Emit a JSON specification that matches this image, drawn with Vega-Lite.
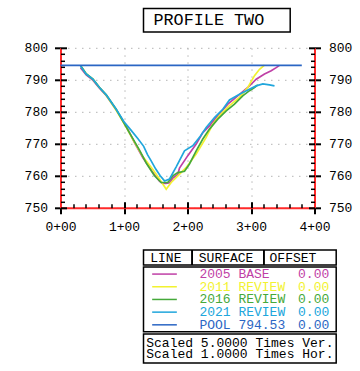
{
  "$schema": "https://vega.github.io/schema/vega-lite/v6.json",
  "padding": {"left": 23.5, "top": 7.5, "right": 2, "bottom": 2},
  "background": "white",
  "config": {"view": {"stroke": null}, "font": "Liberation Mono"},
  "datasets": {
    "profile": [
      {"series": "2005 BASE", "station": 31.5, "elev": 793.8},
      {"series": "2005 BASE", "station": 40.5, "elev": 791.5},
      {"series": "2005 BASE", "station": 51, "elev": 789.9},
      {"series": "2005 BASE", "station": 61.4, "elev": 787.4},
      {"series": "2005 BASE", "station": 72, "elev": 785.1},
      {"series": "2005 BASE", "station": 87.7, "elev": 780.6},
      {"series": "2005 BASE", "station": 103.5, "elev": 775.5},
      {"series": "2005 BASE", "station": 116.5, "elev": 770.4},
      {"series": "2005 BASE", "station": 129.6, "elev": 765.7},
      {"series": "2005 BASE", "station": 145.4, "elev": 761.0},
      {"series": "2005 BASE", "station": 155.9, "elev": 758.3},
      {"series": "2005 BASE", "station": 160, "elev": 757.7},
      {"series": "2005 BASE", "station": 166, "elev": 757.6},
      {"series": "2005 BASE", "station": 171.7, "elev": 757.8},
      {"series": "2005 BASE", "station": 176.9, "elev": 759.3},
      {"series": "2005 BASE", "station": 184.7, "elev": 760.4},
      {"series": "2005 BASE", "station": 187.4, "elev": 762.4},
      {"series": "2005 BASE", "station": 200.5, "elev": 766.3},
      {"series": "2005 BASE", "station": 213.7, "elev": 769.9},
      {"series": "2005 BASE", "station": 224.1, "elev": 773.5},
      {"series": "2005 BASE", "station": 234.6, "elev": 775.6},
      {"series": "2005 BASE", "station": 247.7, "elev": 778.8},
      {"series": "2005 BASE", "station": 263.5, "elev": 782.4},
      {"series": "2005 BASE", "station": 279.2, "elev": 785.0},
      {"series": "2005 BASE", "station": 295, "elev": 787.6},
      {"series": "2005 BASE", "station": 308.2, "elev": 790.2},
      {"series": "2005 BASE", "station": 321.3, "elev": 791.8},
      {"series": "2005 BASE", "station": 331.8, "elev": 792.8},
      {"series": "2005 BASE", "station": 339.7, "elev": 793.8},
      {"series": "2005 BASE", "station": 344.9, "elev": 794.5},
      {"series": "2011 REVIEW", "station": 31.5, "elev": 794.5},
      {"series": "2011 REVIEW", "station": 40.5, "elev": 791.9},
      {"series": "2011 REVIEW", "station": 51, "elev": 790.2},
      {"series": "2011 REVIEW", "station": 61.4, "elev": 787.6},
      {"series": "2011 REVIEW", "station": 72, "elev": 785.2},
      {"series": "2011 REVIEW", "station": 87.7, "elev": 780.5},
      {"series": "2011 REVIEW", "station": 103.5, "elev": 775.2},
      {"series": "2011 REVIEW", "station": 113.9, "elev": 771.4},
      {"series": "2011 REVIEW", "station": 129.6, "elev": 766.0},
      {"series": "2011 REVIEW", "station": 145.4, "elev": 762.0},
      {"series": "2011 REVIEW", "station": 155.9, "elev": 759.0},
      {"series": "2011 REVIEW", "station": 166.5, "elev": 755.8},
      {"series": "2011 REVIEW", "station": 174.3, "elev": 757.9},
      {"series": "2011 REVIEW", "station": 184.7, "elev": 760.0},
      {"series": "2011 REVIEW", "station": 198, "elev": 762.6},
      {"series": "2011 REVIEW", "station": 213.7, "elev": 766.8},
      {"series": "2011 REVIEW", "station": 229.4, "elev": 772.0},
      {"series": "2011 REVIEW", "station": 240, "elev": 776.2},
      {"series": "2011 REVIEW", "station": 250.4, "elev": 778.8},
      {"series": "2011 REVIEW", "station": 266.1, "elev": 781.9},
      {"series": "2011 REVIEW", "station": 281.9, "elev": 784.5},
      {"series": "2011 REVIEW", "station": 295, "elev": 787.6},
      {"series": "2011 REVIEW", "station": 305.5, "elev": 791.3},
      {"series": "2011 REVIEW", "station": 313.4, "elev": 793.3},
      {"series": "2011 REVIEW", "station": 321.3, "elev": 794.6},
      {"series": "2016 REVIEW", "station": 31.5, "elev": 794.5},
      {"series": "2016 REVIEW", "station": 40.5, "elev": 791.8},
      {"series": "2016 REVIEW", "station": 51, "elev": 790.2},
      {"series": "2016 REVIEW", "station": 61.4, "elev": 787.6},
      {"series": "2016 REVIEW", "station": 72, "elev": 785.3},
      {"series": "2016 REVIEW", "station": 87.7, "elev": 780.8},
      {"series": "2016 REVIEW", "station": 92.9, "elev": 779.0},
      {"series": "2016 REVIEW", "station": 108.7, "elev": 773.4},
      {"series": "2016 REVIEW", "station": 124.4, "elev": 768.0},
      {"series": "2016 REVIEW", "station": 135, "elev": 764.0},
      {"series": "2016 REVIEW", "station": 148, "elev": 760.0},
      {"series": "2016 REVIEW", "station": 158.6, "elev": 757.9},
      {"series": "2016 REVIEW", "station": 169, "elev": 757.9},
      {"series": "2016 REVIEW", "station": 176.9, "elev": 760.0},
      {"series": "2016 REVIEW", "station": 184.7, "elev": 761.0},
      {"series": "2016 REVIEW", "station": 195.3, "elev": 761.4},
      {"series": "2016 REVIEW", "station": 203.1, "elev": 763.7},
      {"series": "2016 REVIEW", "station": 213.7, "elev": 767.8},
      {"series": "2016 REVIEW", "station": 224.1, "elev": 771.5},
      {"series": "2016 REVIEW", "station": 234.6, "elev": 774.6},
      {"series": "2016 REVIEW", "station": 247.7, "elev": 777.7},
      {"series": "2016 REVIEW", "station": 261, "elev": 780.3},
      {"series": "2016 REVIEW", "station": 274, "elev": 782.4},
      {"series": "2016 REVIEW", "station": 287, "elev": 785.0},
      {"series": "2016 REVIEW", "station": 297.6, "elev": 786.6},
      {"series": "2016 REVIEW", "station": 305.5, "elev": 787.6},
      {"series": "2016 REVIEW", "station": 310.7, "elev": 788.4},
      {"series": "2021 REVIEW", "station": 31.5, "elev": 794.3},
      {"series": "2021 REVIEW", "station": 40.5, "elev": 791.8},
      {"series": "2021 REVIEW", "station": 51, "elev": 790.2},
      {"series": "2021 REVIEW", "station": 61.4, "elev": 787.6},
      {"series": "2021 REVIEW", "station": 72, "elev": 785.3},
      {"series": "2021 REVIEW", "station": 87.7, "elev": 780.8},
      {"series": "2021 REVIEW", "station": 100, "elev": 776.9},
      {"series": "2021 REVIEW", "station": 110, "elev": 774.5},
      {"series": "2021 REVIEW", "station": 122, "elev": 771.6},
      {"series": "2021 REVIEW", "station": 131, "elev": 769.2},
      {"series": "2021 REVIEW", "station": 137, "elev": 766.6},
      {"series": "2021 REVIEW", "station": 143, "elev": 764.6},
      {"series": "2021 REVIEW", "station": 150, "elev": 762.1},
      {"series": "2021 REVIEW", "station": 157, "elev": 760.0},
      {"series": "2021 REVIEW", "station": 163.8, "elev": 758.4},
      {"series": "2021 REVIEW", "station": 171.7, "elev": 759.0},
      {"series": "2021 REVIEW", "station": 182.2, "elev": 762.8},
      {"series": "2021 REVIEW", "station": 195.3, "elev": 767.8},
      {"series": "2021 REVIEW", "station": 208.3, "elev": 769.4},
      {"series": "2021 REVIEW", "station": 218.9, "elev": 772.0},
      {"series": "2021 REVIEW", "station": 229.4, "elev": 775.1},
      {"series": "2021 REVIEW", "station": 242.5, "elev": 778.2},
      {"series": "2021 REVIEW", "station": 255.6, "elev": 780.8},
      {"series": "2021 REVIEW", "station": 266.1, "elev": 783.7},
      {"series": "2021 REVIEW", "station": 281.9, "elev": 785.5},
      {"series": "2021 REVIEW", "station": 295, "elev": 786.8},
      {"series": "2021 REVIEW", "station": 308.2, "elev": 788.1},
      {"series": "2021 REVIEW", "station": 318.6, "elev": 788.7},
      {"series": "2021 REVIEW", "station": 329.1, "elev": 788.4},
      {"series": "2021 REVIEW", "station": 337, "elev": 788.1},
      {"series": "POOL", "station": 0, "elev": 794.53},
      {"series": "POOL", "station": 380, "elev": 794.53}
    ],
    "table": [
      {"series": "2005 BASE", "surface": "2005 BASE", "offset": "0.00"},
      {"series": "2011 REVIEW", "surface": "2011 REVIEW", "offset": "0.00"},
      {"series": "2016 REVIEW", "surface": "2016 REVIEW", "offset": "0.00"},
      {"series": "2021 REVIEW", "surface": "2021 REVIEW", "offset": "0.00"},
      {"series": "POOL", "surface": "POOL 794.53", "offset": "0.00"}
    ]
  },
  "columns": 2,
  "align": "none",
  "bounds": "flush",
  "spacing": {"row": 15.3, "column": -171},
  "concat": [
    {"width": 83, "height": 23.5, "data": {"values": [{"t": ""}]}, "mark": {"type": "text"}, "encoding": {"text": {"field": "t"}}},
    {
      "width": 146.7, "height": 23.5,
      "view": {"stroke": "black", "strokeWidth": 1.5},
      "data": {"values": [{"t": "PROFILE TWO"}]},
      "mark": {"type": "text", "font": "Liberation Mono", "fontSize": 16.8, "color": "black", "dx": -8, "baseline": "middle"},
      "encoding": {"text": {"field": "t"}}
    },
    {
      "width": 254, "height": 160,
      "data": {"name": "profile"},
      "resolve": {"axis": {"x": "independent", "y": "independent"}},
      "layer": [
        {
          "mark": {"type": "line", "strokeWidth": 1.7},
          "encoding": {
            "x": {"field": "station", "type": "quantitative", "scale": {"domain": [0, 400], "nice": false, "zero": false},
              "axis": {"orient": "bottom", "title": null, "values": [0, 100, 200, 300, 400],
                "labelExpr": "floor(datum.value/100) + '+' + format(datum.value % 100, '02d')",
                "labelFont": "Liberation Mono", "labelFontSize": 13, "labelColor": "black", "labelPadding": 7,
                "labelFlush": false, "labelOverlap": false,
                "domainColor": "#ff2a2a", "domainWidth": 2, "tickColor": "black", "tickSize": 6, "tickWidth": 2,
                "grid": true, "gridColor": "#b5b5b5", "gridDash": [1.5, 5.5], "gridWidth": 1}},
            "y": {"field": "elev", "type": "quantitative", "scale": {"domain": [750, 800], "nice": false, "zero": false},
              "axis": {"orient": "left", "title": null, "values": [750, 760, 770, 780, 790, 800],
                "labelFont": "Liberation Mono", "labelFontSize": 13, "labelColor": "black", "labelPadding": 7,
                "labelFlush": false, "labelOverlap": false,
                "domainColor": "#ff2a2a", "domainWidth": 2, "tickColor": "black", "tickSize": 6, "tickWidth": 2,
                "grid": true, "gridColor": "#b5b5b5", "gridDash": [1.5, 5.5], "gridWidth": 1}},
            "color": {"field": "series", "type": "nominal", "legend": null,
              "scale": {"domain": ["2005 BASE", "2011 REVIEW", "2016 REVIEW", "2021 REVIEW", "POOL"],
                "range": ["#bf3fa6", "#f2f230", "#45a93a", "#20a6dc", "#2b66c4"]}}
          }
        },
        {
          "mark": {"type": "line", "strokeOpacity": 0},
          "encoding": {
            "x": {"field": "station", "type": "quantitative", "scale": {"domain": [0, 400], "nice": false, "zero": false},
              "axis": {"orient": "bottom", "title": null, "labels": false, "domain": false, "grid": false,
                "values": [0, 20, 40, 60, 80, 100, 120, 140, 160, 180, 200, 220, 240, 260, 280, 300, 320, 340, 360, 380, 400],
                "tickColor": "black",
                "tickSize": {"condition": {"test": "datum.value % 100 === 0", "value": -6}, "value": -4},
                "tickWidth": {"condition": {"test": "datum.value % 100 === 0", "value": 2}, "value": 1.5}}},
            "y": {"field": "elev", "type": "quantitative", "scale": {"domain": [750, 800], "nice": false, "zero": false},
              "axis": {"orient": "left", "title": null, "labels": false, "domain": false, "grid": false,
                "values": [750, 752, 754, 756, 758, 760, 762, 764, 766, 768, 770, 772, 774, 776, 778, 780, 782, 784, 786, 788, 790, 792, 794, 796, 798, 800],
                "tickColor": "black",
                "tickSize": {"condition": {"test": "datum.value % 10 === 0", "value": -6}, "value": -4},
                "tickWidth": {"condition": {"test": "datum.value % 10 === 0", "value": 2}, "value": 1.5}}},
            "detail": {"field": "series", "type": "nominal"}
          }
        },
        {
          "mark": {"type": "line", "strokeOpacity": 0},
          "encoding": {
            "x": {"field": "station", "type": "quantitative", "scale": {"domain": [0, 400], "nice": false, "zero": false}, "axis": null},
            "y": {"field": "elev", "type": "quantitative", "scale": {"domain": [750, 800], "nice": false, "zero": false},
              "axis": {"orient": "right", "title": null, "values": [750, 760, 770, 780, 790, 800],
                "labelFont": "Liberation Mono", "labelFontSize": 13, "labelColor": "black", "labelPadding": 8,
                "labelFlush": false, "labelOverlap": false, "grid": false,
                "domainColor": "#ff2a2a", "domainWidth": 2, "tickColor": "black", "tickSize": 6, "tickWidth": 2}},
            "detail": {"field": "series", "type": "nominal"}
          }
        },
        {
          "mark": {"type": "line", "strokeOpacity": 0},
          "encoding": {
            "x": {"field": "station", "type": "quantitative", "scale": {"domain": [0, 400], "nice": false, "zero": false}, "axis": null},
            "y": {"field": "elev", "type": "quantitative", "scale": {"domain": [750, 800], "nice": false, "zero": false},
              "axis": {"orient": "right", "title": null, "labels": false, "domain": false, "grid": false,
                "values": [750, 752, 754, 756, 758, 760, 762, 764, 766, 768, 770, 772, 774, 776, 778, 780, 782, 784, 786, 788, 790, 792, 794, 796, 798, 800],
                "tickColor": "black",
                "tickSize": {"condition": {"test": "datum.value % 10 === 0", "value": -6}, "value": -4},
                "tickWidth": {"condition": {"test": "datum.value % 10 === 0", "value": 2}, "value": 1.5}}},
            "detail": {"field": "series", "type": "nominal"}
          }
        }
      ]
    },
    {"width": 1, "height": 186.6, "data": {"values": [{"t": ""}]}, "mark": {"type": "text"}, "encoding": {"text": {"field": "t"}}},
    {"width": 83, "height": 20, "data": {"values": [{"t": ""}]}, "mark": {"type": "text"}, "encoding": {"text": {"field": "t"}}},
    {
      "bounds": "flush",
      "spacing": 2,
      "vconcat": [
        {
          "width": 192.7, "height": 15,
          "view": {"stroke": "black", "strokeWidth": 1.5},
          "data": {"values": [{"h": "LINE", "col": "line"}, {"h": "SURFACE", "col": "surface"}, {"h": "OFFSET", "col": "offset"}]},
          "layer": [
            {"mark": {"type": "rule", "color": "black", "strokeWidth": 1.5},
              "encoding": {
                "x": {"datum": 25.27, "type": "quantitative", "scale": {"domain": [0, 100], "nice": false, "zero": false}, "axis": null}}},
            {"mark": {"type": "rule", "color": "black", "strokeWidth": 1.5},
              "encoding": {
                "x": {"datum": 62.43, "type": "quantitative", "scale": {"domain": [0, 100], "nice": false, "zero": false}, "axis": null}}},
            {"transform": [{"filter": "datum.col === 'line'"}],
              "mark": {"type": "text", "font": "Liberation Mono", "fontSize": 13, "color": "black", "align": "left", "baseline": "middle"},
              "encoding": {
                "x": {"datum": 3.5, "type": "quantitative", "scale": {"domain": [0, 100], "nice": false, "zero": false}, "axis": null},
                "text": {"field": "h"}}},
            {"transform": [{"filter": "datum.col === 'surface'"}],
              "mark": {"type": "text", "font": "Liberation Mono", "fontSize": 13, "color": "black", "align": "left", "baseline": "middle"},
              "encoding": {
                "x": {"datum": 28.7, "type": "quantitative", "scale": {"domain": [0, 100], "nice": false, "zero": false}, "axis": null},
                "text": {"field": "h"}}},
            {"transform": [{"filter": "datum.col === 'offset'"}],
              "mark": {"type": "text", "font": "Liberation Mono", "fontSize": 13, "color": "black", "align": "left", "baseline": "middle"},
              "encoding": {
                "x": {"datum": 65.4, "type": "quantitative", "scale": {"domain": [0, 100], "nice": false, "zero": false}, "axis": null},
                "text": {"field": "h"}}}
          ]
        },
        {
          "width": 192.7, "height": 64.7,
          "view": {"stroke": "black", "strokeWidth": 1.5},
          "data": {"name": "table"},
          "encoding": {
            "y": {"field": "series", "type": "nominal", "axis": null,
              "scale": {"type": "point", "padding": 0.55, "domain": ["2005 BASE", "2011 REVIEW", "2016 REVIEW", "2021 REVIEW", "POOL"]}},
            "color": {"field": "series", "type": "nominal", "legend": null,
              "scale": {"domain": ["2005 BASE", "2011 REVIEW", "2016 REVIEW", "2021 REVIEW", "POOL"],
                "range": ["#bf3fa6", "#f2f230", "#45a93a", "#20a6dc", "#2b66c4"]}}
          },
          "layer": [
            {"mark": {"type": "rule", "strokeWidth": 1.5},
              "encoding": {
                "x": {"datum": 4.5, "type": "quantitative", "scale": {"domain": [0, 100], "nice": false, "zero": false}, "axis": null},
                "x2": {"datum": 17.3}}},
            {"mark": {"type": "text", "font": "Liberation Mono", "fontSize": 13, "align": "left", "baseline": "middle"},
              "encoding": {
                "x": {"datum": 29, "type": "quantitative", "scale": {"domain": [0, 100], "nice": false, "zero": false}, "axis": null},
                "text": {"field": "surface"}}},
            {"mark": {"type": "text", "font": "Liberation Mono", "fontSize": 13, "align": "right", "baseline": "middle"},
              "encoding": {
                "x": {"datum": 96.4, "type": "quantitative", "scale": {"domain": [0, 100], "nice": false, "zero": false}, "axis": null},
                "text": {"field": "offset"}}}
          ]
        },
        {
          "width": 192.7, "height": 29,
          "view": {"stroke": "black", "strokeWidth": 1.5},
          "data": {"values": [{"note": "Scaled 5.0000 Times Ver."}, {"note": "Scaled 1.0000 Times Hor."}]},
          "mark": {"type": "text", "font": "Liberation Mono", "fontSize": 13, "color": "black", "baseline": "middle"},
          "encoding": {
            "y": {"field": "note", "type": "nominal", "axis": null, "sort": null, "scale": {"type": "point", "padding": 0.75}},
            "text": {"field": "note"}
          }
        }
      ]
    }
  ]
}
